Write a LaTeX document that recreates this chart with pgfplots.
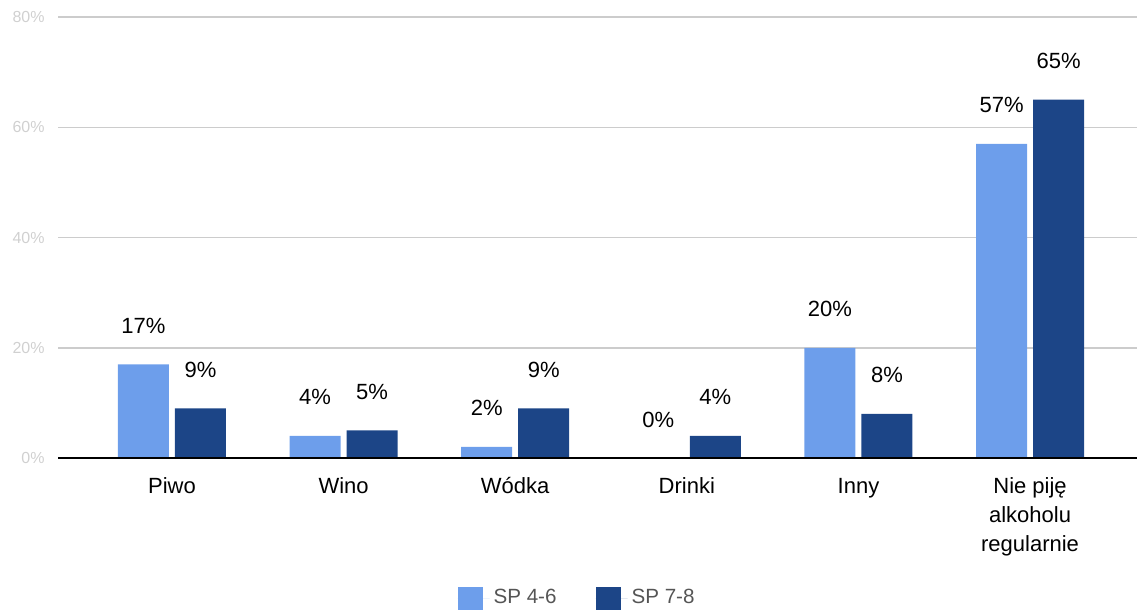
\documentclass[border=0pt]{standalone}
\usepackage{fontspec}
\setmainfont{Liberation Sans}
\usepackage{pgfplots}
\pgfplotsset{compat=1.18}
\definecolor{lightb}{HTML}{6D9EEB}
\definecolor{darkb}{HTML}{1C4587}
\definecolor{gridc}{HTML}{CCCCCC}
\definecolor{ytc}{HTML}{D0D0D0}
\definecolor{legc}{HTML}{555555}
\newcommand{\fl}{\rule{0pt}{9pt}}
\begin{document}
\begin{tikzpicture}
\useasboundingbox (-29pt,-77pt) rectangle (539.5pt,229pt);
\begin{axis}[
  at={(0,0)}, anchor=south west,
  scale only axis, width=539.5pt, height=220.5pt,
  ybar, bar width=25.5pt,
  xmin=-0.664, xmax=5.623,
  ymin=0, ymax=80,
  xtick=data,
  xticklabels={\fl Piwo,\fl Wino,\fl Wódka,\fl Drinki,\fl Inny,{\fl Nie piję\\alkoholu\\regularnie}},
  xticklabel style={align=center, anchor=north, inner sep=0pt, yshift=-8.5pt, font=\fontsize{11}{14.5}\selectfont, text=black},
  ytick={0,20,40,60,80},
  yticklabels={0\%,20\%,40\%,60\%,80\%},
  yticklabel style={font=\fontsize{8}{9}\selectfont, text=ytc, inner sep=0pt, xshift=-6.5pt},
  major tick length=0pt,
  axis line style={draw=none},
  axis x line*=bottom,
  ymajorgrids, grid style={gridc, line width=0.75pt},
  /pgf/number format/assume math mode=true,
  nodes near coords={\pgfmathprintnumber{\pgfplotspointmeta}\%},
  every node near coord/.append style={font=\fontsize{11}{13}\selectfont, text=black, anchor=base, inner sep=0pt, yshift=15.5pt},
  legend style={at={(0.482,-0.3175)}, anchor=center, draw=none, fill=none, legend columns=2,
    font=\fontsize{10.3}{12}\selectfont, text=legc,
    /tikz/every even column/.append style={column sep=17.5pt}},
  legend image code/.code={\path[#1] (0pt,-5.75pt) rectangle (12.5pt,5.75pt); \path (0pt,0pt) -- (16pt,0pt);},
  clip=false,
]
\addplot[fill=lightb, draw=none, bar shift=-14.25pt] coordinates {(0,17) (1,4) (2,2) (3,0) (4,20) (5,57)};
\addlegendentry{SP 4-6}
\addplot[fill=darkb, draw=none, bar shift=14.25pt] coordinates {(0,9) (1,5) (2,9) (3,4) (4,8) (5,65)};
\addlegendentry{SP 7-8}
\draw[black, line width=0.9pt] (rel axis cs:0,0) -- (rel axis cs:1,0);
\end{axis}
\end{tikzpicture}
\end{document}
